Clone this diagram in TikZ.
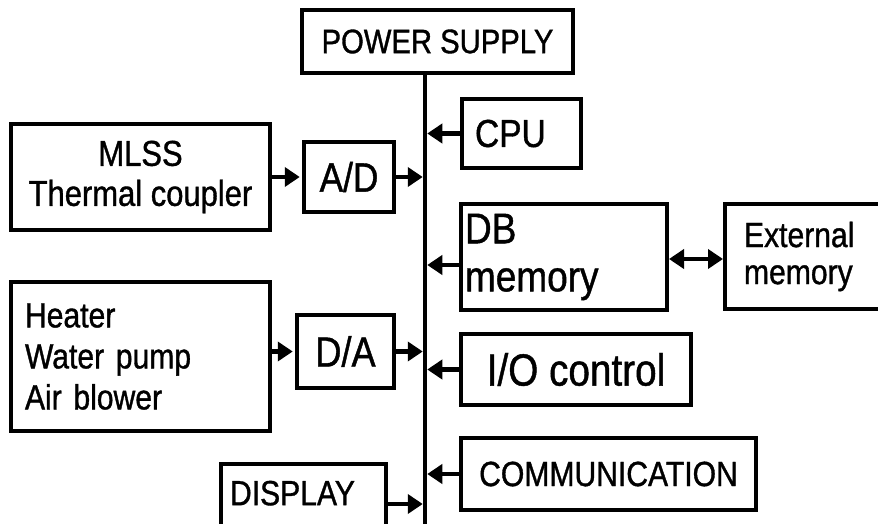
\documentclass[tikz,border=0pt]{standalone}
\usepackage{fontspec}
\setmainfont[FakeStretch=0.86, FakeBold=1.0]{Liberation Sans}
\usetikzlibrary{arrows.meta, positioning}

\newcommand{\fsz}[2]{\fontsize{#1}{#2}\selectfont}

\begin{document}
\begin{tikzpicture}[x=1pt, y=-1pt,
		blk/.style={draw, line width=4pt, anchor=north west, inner sep=0pt, align=center},
		arr/.style={-{Triangle[length=15pt, width=19pt]}, line width=4.5pt, shorten >=2.25pt},
		darr/.style={{Triangle[length=15pt, width=19pt]}-{Triangle[length=15pt, width=19pt]}, line width=4.5pt}
		]
		\useasboundingbox (0,0) rectangle (878,524);
		\clip (0,0) rectangle (878,524);
		
		\node[blk, minimum width=271pt, minimum height=63pt, font=\fsz{34}{40}] (psu) at (300,8) {POWER SUPPLY};
		\node[blk, minimum width=119pt, minimum height=69pt, align=left, text width=93pt, inner xsep=13pt,
			font=\fsz{39}{45}] (cpu) at (460,97) {CPU};
		\node[blk, minimum width=259pt, minimum height=106pt, font=\fsz{36}{40}] (mlss) at (9,122) {MLSS\\Thermal coupler};
		\node[blk, minimum width=90pt, minimum height=70pt, font=\fsz{41}{45}] (ad) at (302,140) {A/D};
		\node[blk, minimum width=206pt, minimum height=106pt, align=left, text width=198pt, inner xsep=4pt,
			font=\fsz{43}{48}] (dbm) at (459,202) {DB\\memory};
		\node[blk, minimum width=190pt, minimum height=105pt, align=left, text width=152pt, inner xsep=19pt,
			font=\fsz{35}{37}] (ext) at (723,202) {External\\memory};
		\node[blk, minimum width=259pt, minimum height=149pt, align=left, text width=231pt, inner xsep=14pt,
			font=\fsz{35}{41}] (heat) at (9,280) {Heater\\Water pump\\Air blower};
		\node[blk, minimum width=97pt, minimum height=73pt, font=\fsz{42}{45}] (da) at (295,313) {D/A};
		\node[blk, minimum width=230pt, minimum height=71pt, font=\fsz{45}{50}] (io) at (459,332) {I/O control};
		\node[blk, minimum width=295pt, minimum height=72pt, font=\fsz{35}{40}] (comm) at (459,436) {COMMUNICATION};
		\node[blk, minimum width=165pt, minimum height=80pt, align=left, text width=147pt, inner xsep=9pt,
			text depth=22pt, font=\fsz{35}{40}] (disp) at (219,462) {DISPLAY};
		
		% bus
		\coordinate (bustop) at ([xshift=-12.5pt]psu.south);
		\coordinate (busbot) at (bustop |- 0,540);
		\draw[line width=4.5pt] (bustop) -- (busbot);
		
		\draw[arr] (mlss.east) -- (ad.west);
		\draw[arr] (heat.east |- da.west) -- (da.west);
		\foreach \n in {cpu, io, comm}
		\draw[arr] (\n.west) -- (\n.west -| bustop);
		\foreach \n in {ad, da, disp}
		\draw[arr] (\n.east) -- (\n.east -| bustop);
		\draw[arr] ([yshift=-8pt]dbm.west) -- ([yshift=-8pt]dbm.west -| bustop);
		\draw[darr] ([yshift=-2pt]dbm.east) -- ([yshift=-2pt]dbm.east -| ext.west);
	\end{tikzpicture}
\end{document}
